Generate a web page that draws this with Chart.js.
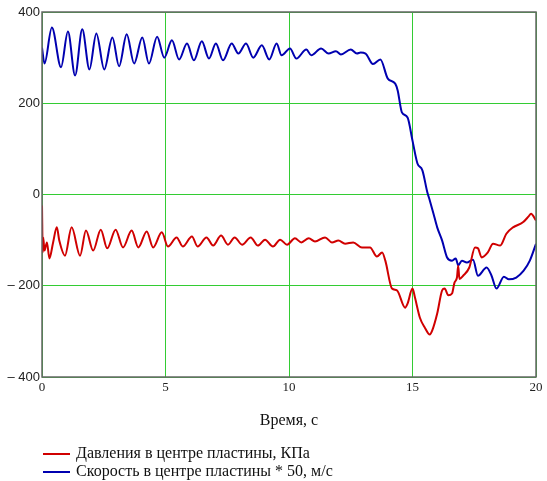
<!DOCTYPE html>
<html>
<head>
<meta charset="utf-8">
<script src="https://cdn.jsdelivr.net/npm/chart.js@4"></script>
<style>
  html, body { margin: 0; padding: 0; background: #fff; }
  #wrap { width: 547px; height: 481px; }
</style>
</head>
<body>
<div id="wrap"><canvas id="grafico"></canvas></div>
<script>
// скорость * 50 (синяя)
const tiempo_vel = [0,0.1,0.4,0.77,1.05,1.34,1.63,1.92,2.2,2.52,2.85,3.12,3.43,3.73,4.06,4.33,4.66,4.95,5.26,5.55,5.87,6.15,6.47,6.76,7.04,7.33,7.68,7.95,8.26,8.55,8.9,9.2,9.5,9.7,10.04,10.3,10.7,10.9,11.3,11.6,11.9,12.1,12.5,12.75,12.9,13.1,13.4,13.7,14.0,14.3,14.4,14.57,14.8,15.0,15.2,15.4,15.6,15.7,15.85,16.0,16.2,16.4,16.6,16.75,16.85,17.0,17.2,17.45,17.65,18.0,18.2,18.4,18.7,18.9,19.2,19.5,19.75,20];
const valores_vel = [322,287,366,279,357,261,362,274,353,274,344,281,351,287,344,287,346,300,338,296,331,294,336,298,331,294,331,309,331,300,327,296,331,305,320,298,318,305,320,309,314,307,318,309,311,309,286,296,254,243,228,180,169,118,68,53,5,-13,-42,-72,-101,-138,-145,-140,-155,-145,-149,-143,-178,-160,-178,-206,-180,-186,-182,-167,-145,-108];

// давление (красная)
const tiempo_pres = [0,0.03,0.05,0.1,0.2,0.3,0.45,0.6,0.7,0.93,1.2,1.54,1.78,2.07,2.38,2.64,2.98,3.28,3.63,3.9,4.24,4.5,4.85,5.1,5.45,5.7,6.07,6.3,6.66,6.93,7.25,7.53,7.8,8.1,8.45,8.74,9.03,9.35,9.64,9.92,10.24,10.5,10.8,11.05,11.46,11.74,12.0,12.27,12.6,12.95,13.28,13.56,13.77,13.9,14.17,14.37,14.7,14.8,15.0,15.1,15.3,15.5,15.7,15.8,16.0,16.2,16.3,16.45,16.6,16.7,16.8,16.85,16.9,17.05,17.3,17.53,17.65,17.8,18.05,18.26,18.55,18.8,19.07,19.47,19.7,19.8,20];
const valores_pres = [-24,-127,-94,-123,-105,-140,-105,-72,-101,-134,-72,-134,-79,-123,-77,-118,-77,-116,-79,-116,-81,-116,-83,-114,-94,-114,-92,-114,-94,-112,-90,-110,-94,-110,-94,-112,-99,-114,-99,-110,-96,-105,-96,-103,-94,-105,-101,-108,-105,-116,-116,-136,-127,-145,-206,-210,-248,-239,-206,-226,-270,-292,-307,-298,-261,-210,-206,-221,-217,-193,-182,-156,-185,-178,-160,-116,-118,-138,-127,-108,-112,-86,-72,-61,-48,-42,-57];

const ticks_x = [0,5,10,15,20];
const ticks_y = [-400,-200,0,200,400];

const etiquetas = ['Давления в центре пластины, КПа', 'Скорость в центре пластины * 50, м/с'];
const titulo_x = 'Время, с';
const colores = ['#d00000', '#0000b0'];

const puntos = (t, v) => t.map((x, i) => ({x: x, y: v[i]}));

// рамка, подпись оси и легенда
const marco = {
  id: 'marco',
  afterDatasetsDraw(chart) {
    const {ctx, chartArea: a} = chart;
    ctx.save();
    ctx.strokeStyle = '#666';
    ctx.lineWidth = 1.5;
    ctx.strokeRect(a.left, a.top, a.right - a.left, a.bottom - a.top);
    ctx.restore();
  },
  afterDraw(chart) {
    const {ctx, chartArea: a} = chart;
    ctx.save();
    ctx.fillStyle = '#111';
    ctx.font = '16px "Liberation Serif"';
    ctx.textAlign = 'center';
    ctx.textBaseline = 'middle';
    ctx.fillText(titulo_x, (a.left + a.right) / 2, 421);
    ctx.textAlign = 'left';
    etiquetas.forEach((txt, i) => {
      const y = 454 + i * 18;
      ctx.strokeStyle = colores[i];
      ctx.lineWidth = 2;
      ctx.beginPath();
      ctx.moveTo(43, y);
      ctx.lineTo(70, y);
      ctx.stroke();
      ctx.fillText(txt, 76, y);
    });
    ctx.restore();
  }
};

const grafico = new Chart(document.getElementById('grafico').getContext('2d'), {
  type: 'line',
  data: {
    datasets: [{
      label: etiquetas[0],
      data: puntos(tiempo_pres, valores_pres),
      borderColor: colores[0],
      borderWidth: 2,
      pointRadius: 0,
      cubicInterpolationMode: 'monotone',
      fill: false
    }, {
      label: etiquetas[1],
      data: puntos(tiempo_vel, valores_vel),
      borderColor: colores[1],
      borderWidth: 2,
      pointRadius: 0,
      cubicInterpolationMode: 'monotone',
      fill: false
    }]
  },
  options: {
    responsive: true,
    maintainAspectRatio: false,
    animation: false,
    layout: { padding: { top: 12, right: 11, bottom: 82, left: 0 } },
    plugins: { legend: { display: false }, tooltip: { enabled: false } },
    scales: {
      x: {
        type: 'linear',
        min: 0,
        max: 20,
        afterBuildTicks: s => { s.ticks = ticks_x.map(v => ({value: v})); },
        afterFit: s => { s.height = 22; },
        grid: { color: '#3c3', lineWidth: 1, drawTicks: false },
        border: { display: false },
        ticks: { color: '#222', font: { family: 'Liberation Serif', size: 13 }, padding: 3, maxRotation: 0 }
      },
      y: {
        min: -400,
        max: 400,
        afterBuildTicks: s => { s.ticks = ticks_y.map(v => ({value: v})); },
        afterFit: s => { s.width = 42; },
        grid: { color: '#3c3', lineWidth: 1, drawTicks: false },
        border: { display: false },
        ticks: {
          color: '#222',
          font: { family: 'Liberation Sans', size: 13 },
          padding: 2,
          callback: v => v < 0 ? '\u2013 ' + Math.abs(v) : String(v)
        }
      }
    }
  },
  plugins: [marco]
});
</script>
</body>
</html>
